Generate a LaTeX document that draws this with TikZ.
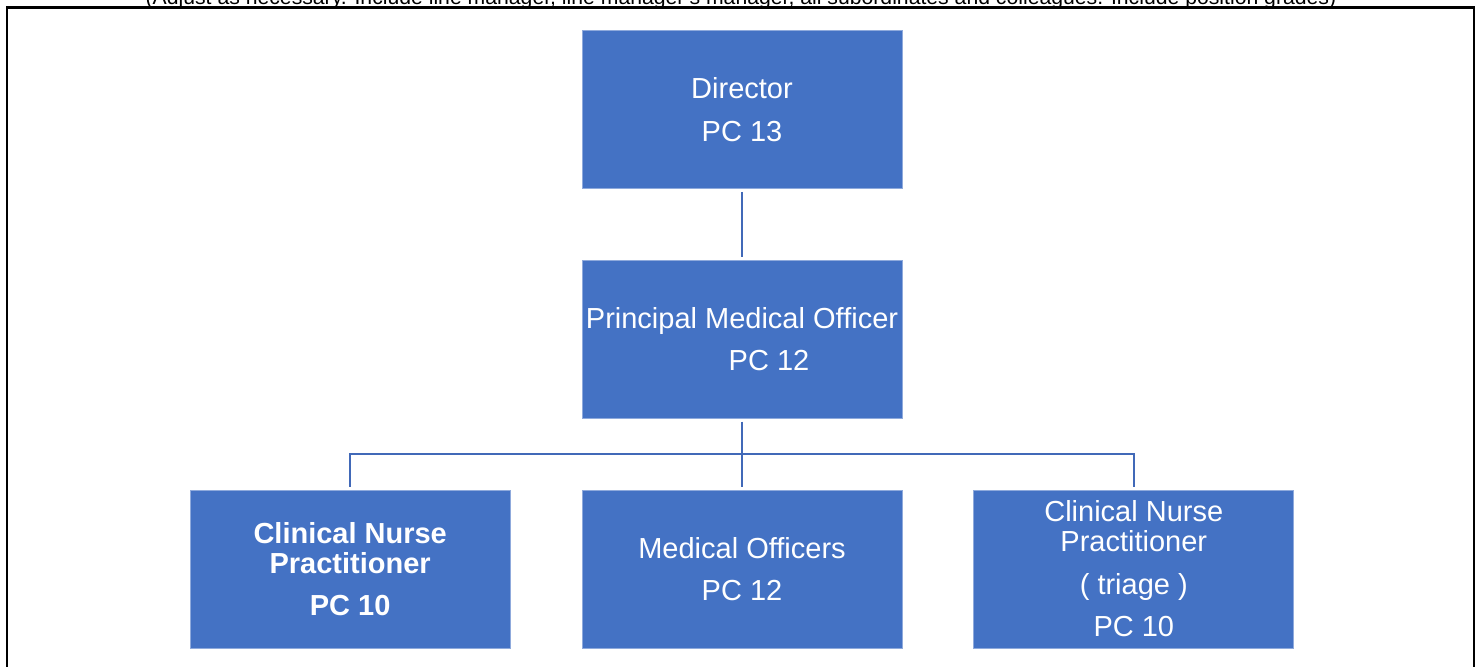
\documentclass[tikz,border=0pt]{standalone}
\usepackage{fontspec}
\setmainfont{Liberation Sans}
\usetikzlibrary{positioning}
\definecolor{boxblue}{HTML}{4472C4}
\definecolor{edgeblue}{HTML}{8FAADC}
\definecolor{linkblue}{HTML}{4169B8}

\begin{document}
\begin{tikzpicture}[x=0.5pt, y=-0.5pt, node distance=35.5pt,
	post/.style={rectangle, draw=edgeblue, line width=0.4pt, fill=boxblue, text=white, minimum width=160pt, minimum height=79pt, inner sep=0pt, align=center, font=\fontsize{14.5}{15}\selectfont},
	link/.style={draw=linkblue, line width=1.25pt, shorten <=1.5pt, shorten >=1.5pt}]
	\useasboundingbox (0,0) rectangle (1480,666);
	\node[anchor=base, font=\fontsize{10.6}{12}\selectfont] (note) at (741,4) {(Adjust as necessary. Include line manager, line manager's manager, all subordinates and colleagues. Include position grades)};
	\draw[line width=1.2pt] (7,7.5) rectangle (1474,690);
	\node[post] (dir) at (742,109.5) {Director\\[6.25pt]PC 13};
	\node[post, below=of dir] (pmo) {Principal Medical Officer\\[6.25pt]\hspace*{27pt}PC 12};
	\node[post, below=of pmo] (mo) {Medical Officers\\[6.25pt]PC 12};
	\node[post, left=of mo, font=\fontsize{14.5}{15}\selectfont\bfseries] (cnp) {Clinical Nurse\\Practitioner\\[6.25pt]PC 10};
	\node[post, right=of mo] (cnpt) {Clinical Nurse\\Practitioner\\[6.25pt]( triage )\\[6.25pt]PC 10};
	\coordinate (bus) at (742,454);
	\draw[link] (dir) -- (pmo);
	\draw[link] (pmo) -- (mo);
	\draw[link] (cnp) |- (bus) -| (cnpt);
\end{tikzpicture}
\end{document}
